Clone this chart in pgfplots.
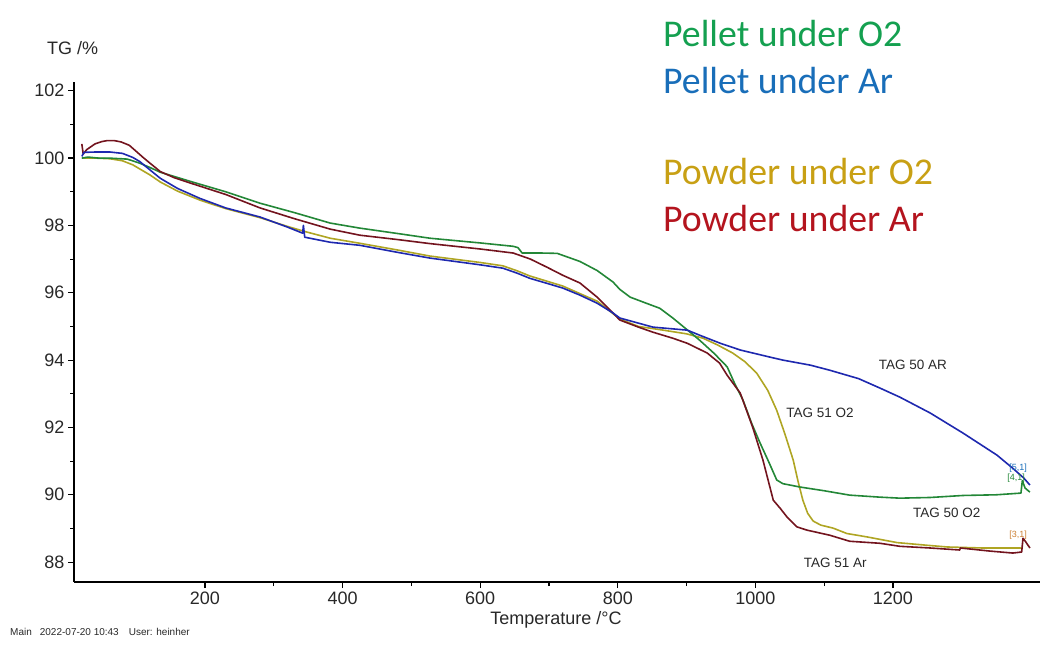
\documentclass[border=0pt]{standalone}
\usepackage{fontspec}
\setmainfont{Liberation Sans}
\newfontfamily\calibri{Carlito}
\usepackage{pgfplots}
\pgfplotsset{compat=1.18}
\definecolor{cgreen}{RGB}{35,135,55}
\definecolor{cblue}{RGB}{30,40,175}
\definecolor{cgold}{RGB}{175,165,35}
\definecolor{cbrown}{RGB}{115,20,30}
\definecolor{lgreen}{RGB}{20,160,80}
\definecolor{lblue}{RGB}{25,110,185}
\definecolor{lgold}{RGB}{200,160,20}
\definecolor{lred}{RGB}{180,20,30}
\definecolor{tgray}{RGB}{40,40,40}
\begin{document}
\begin{tikzpicture}[x=1pt,y=1pt]
\useasboundingbox (0,0) rectangle (1046,645);
\begin{axis}[
  at={(74pt,63pt)}, anchor=south west,
  scale only axis, width=966pt, height=500pt,
  xmin=9.6, xmax=1413.7, ymin=87.41, ymax=102.26,
  axis x line*=bottom, axis y line*=left,
  axis line style={-, line width=1.4pt, black},
  xtick={200,400,...,1200}, ytick={88,90,...,102},
  minor x tick num=1, minor y tick num=1,
  tick align=outside, major tick length=6pt, minor tick length=4pt,
  every tick/.style={line width=1.2pt, black},
  ticklabel style={font=\fontsize{18}{20}\selectfont, text=tgray},
  /pgf/number format/assume math mode=true,
  /pgf/number format/1000 sep={},
  clip=false,
  every axis plot/.append style={line width=1.6pt, line join=round},
]
\addplot[cgold] coordinates {
(21,100.0)(40,100.0)(62,99.98)(80,99.92)(95,99.8)(105,99.68)(120,99.5)(135,99.29)(160,99.02)(193,98.75)(230,98.5)(280,98.23)(320,97.97)(345,97.82)(382,97.62)(425,97.47)(480,97.27)(527,97.09)(600,96.9)(633,96.8)(654,96.65)(672,96.5)(720,96.2)(770,95.75)(803,95.22)(830,95.0)(866,94.89)(900,94.78)(924,94.65)(945,94.45)(967,94.21)(985,93.95)(1002,93.61)(1018,93.1)(1031,92.51)(1043,91.8)(1055,91.03)(1062,90.4)(1069,89.84)(1076,89.45)(1084,89.22)(1095,89.1)(1113,89.01)(1133,88.85)(1162,88.75)(1206,88.58)(1250,88.5)(1279,88.45)(1330,88.42)(1385,88.42)(1388,88.4)
};
\addplot[cgreen] coordinates {
(21,100.0)(30,100.03)(45,100.0)(60,100.0)(87,99.97)(105,99.85)(120,99.72)(135,99.58)(180,99.3)(230,99.0)(280,98.66)(330,98.38)(382,98.07)(425,97.92)(480,97.76)(527,97.62)(600,97.48)(648,97.38)(655,97.34)(661,97.18)(690,97.18)(712,97.17)(745,96.93)(770,96.66)(793,96.32)(803,96.1)(818,95.87)(840,95.7)(861,95.54)(880,95.25)(905,94.83)(919,94.59)(940,94.2)(959,93.8)(970,93.3)(982,92.81)(995,92.1)(1007,91.53)(1020,90.95)(1031,90.44)(1040,90.33)(1065,90.23)(1100,90.12)(1137,89.99)(1181,89.93)(1210,89.9)(1254,89.92)(1302,89.98)(1350,90.0)(1386,90.05)(1388,90.42)(1392,90.2)(1399,90.08)
};
\addplot[cbrown] coordinates {
(21,100.42)(23,100.12)(28,100.25)(40,100.42)(50,100.49)(58,100.52)(68,100.52)(78,100.48)(90,100.38)(100,100.2)(110,100.02)(120,99.85)(135,99.6)(155,99.42)(180,99.25)(230,98.92)(280,98.52)(330,98.2)(382,97.89)(425,97.71)(480,97.58)(527,97.46)(600,97.3)(648,97.18)(673,97.0)(697,96.76)(720,96.52)(745,96.29)(770,95.87)(793,95.4)(803,95.19)(830,94.98)(851,94.83)(880,94.65)(901,94.5)(930,94.21)(948,93.91)(959,93.55)(978,93.02)(996,92.01)(1011,91.03)(1026,89.84)(1036,89.6)(1046,89.34)(1060,89.05)(1075,88.95)(1108,88.8)(1137,88.62)(1181,88.56)(1210,88.47)(1254,88.42)(1297,88.36)(1298,88.42)(1340,88.33)(1374,88.27)(1387,88.3)(1389,88.71)(1393,88.6)(1399,88.42)
};
\addplot[cblue] coordinates {
(21,100.05)(24,100.17)(40,100.18)(62,100.18)(80,100.14)(95,100.02)(105,99.9)(120,99.65)(135,99.4)(160,99.1)(193,98.8)(230,98.52)(280,98.25)(320,97.95)(342,97.77)(343,98.0)(345,97.65)(382,97.5)(425,97.41)(480,97.2)(527,97.03)(600,96.83)(633,96.73)(654,96.58)(672,96.43)(697,96.28)(720,96.14)(745,95.93)(770,95.69)(793,95.4)(803,95.25)(851,94.98)(901,94.89)(919,94.74)(949,94.5)(978,94.3)(1021,94.09)(1040,94.0)(1080,93.85)(1108,93.7)(1150,93.45)(1181,93.17)(1210,92.9)(1254,92.43)(1302,91.83)(1351,91.18)(1374,90.79)(1390,90.5)(1399,90.29)
};
\node[text=tgray, font=\fontsize{13.5}{15}\selectfont] at (axis cs:1229,93.85) {TAG 50 AR};
\node[text=tgray, font=\fontsize{13.5}{15}\selectfont] at (axis cs:1094,92.43) {TAG 51 O2};
\node[text=tgray, font=\fontsize{13.5}{15}\selectfont] at (axis cs:1278,89.46) {TAG 50 O2};
\node[text=tgray, font=\fontsize{13.5}{15}\selectfont] at (axis cs:1116,87.97) {TAG 51 Ar};
\node[text=lblue, font=\fontsize{9}{10}\selectfont, inner sep=0pt] at (axis cs:1382,90.8) {[5,1]};
\node[text=cgreen, font=\fontsize{9}{10}\selectfont, inner sep=0pt] at (axis cs:1379,90.5) {[4,1]};
\node[text=brown!80!orange, font=\fontsize{9}{10}\selectfont, inner sep=0pt] at (axis cs:1382,88.8) {[3,1]};
\end{axis}
\node[text=tgray, font=\fontsize{18}{20}\selectfont, anchor=west, inner sep=0pt] at (47,597) {TG /\%};
\node[text=tgray, font=\fontsize{18}{20}\selectfont, inner sep=0pt] at (556,25) {Temperature /°C};
\node[text=tgray, font=\fontsize{10}{11}\selectfont, anchor=west, inner sep=0pt] at (10,13) {Main\hspace{8pt}2022-07-20 10:43\hspace{10pt}User: heinher};
\node[text=lgreen, font=\calibri\fontsize{37.8}{42}\selectfont, anchor=base west, inner sep=0pt] at (663,598) {Pellet under O2};
\node[text=lblue, font=\calibri\fontsize{37.8}{42}\selectfont, anchor=base west, inner sep=0pt] at (663,551) {Pellet under Ar};
\node[text=lgold, font=\calibri\fontsize{37.8}{42}\selectfont, anchor=base west, inner sep=0pt] at (663,460) {Powder under O2};
\node[text=lred, font=\calibri\fontsize{37.8}{42}\selectfont, anchor=base west, inner sep=0pt] at (663,413) {Powder under Ar};
\end{tikzpicture}
\end{document}
